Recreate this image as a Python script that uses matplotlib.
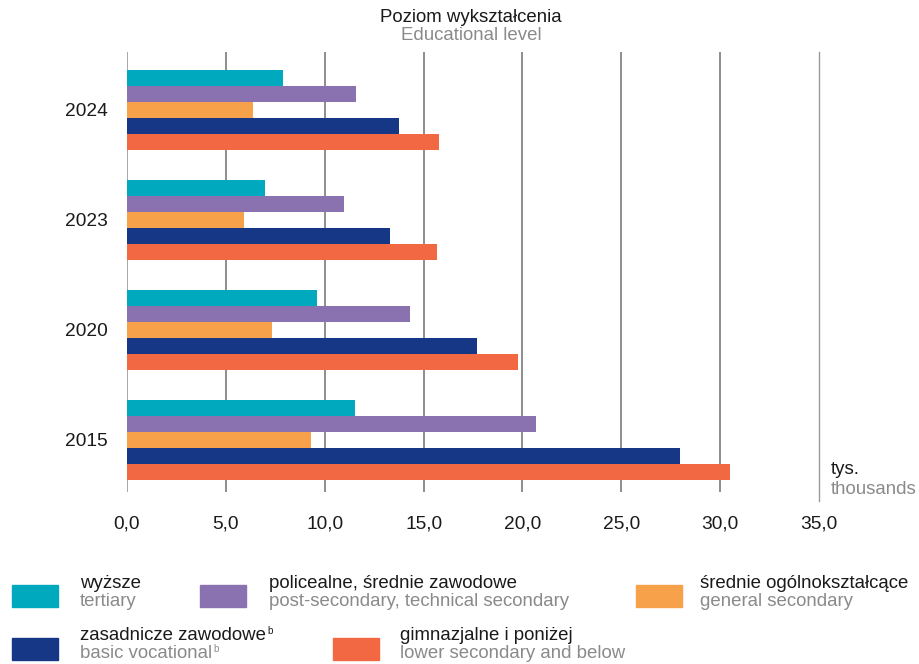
import numpy as np
import matplotlib
matplotlib.use("Agg")
import matplotlib.pyplot as plt
from matplotlib.patches import Rectangle

plt.rcParams['font.family'] = ['Liberation Sans', 'DejaVu Sans']

# --- data (thousands) ---
years = ['2015', '2020', '2023', '2024']
tertiary = [11.55, 9.6, 7.0, 7.9]
post_secondary = [20.7, 14.3, 11.0, 11.6]
general_secondary = [9.3, 7.35, 5.9, 6.35]
basic_vocational = [27.95, 17.7, 13.3, 13.75]
lower_secondary = [30.5, 19.8, 15.7, 15.8]

series = [tertiary, post_secondary, general_secondary, basic_vocational, lower_secondary]
colors = ['#00A9BD', '#8A72B0', '#F7A24B', '#163686', '#F26842']
labels_pl = ['wyższe', 'policealne, średnie zawodowe', 'średnie ogólnokształcące',
             'zasadnicze zawodowe', 'gimnazjalne i poniżej']
labels_en = ['tertiary', 'post-secondary, technical secondary', 'general secondary',
             'basic vocational', 'lower secondary and below']
footnote = ['', '', '', 'b', '']
x_ticks = [0, 5, 10, 15, 20, 25, 30, 35]

GRAY = '#8a8a8a'
DARK = '#1a1a1a'
FS = 13.4

fig = plt.figure(figsize=(9.19, 6.64), dpi=100)
ax = fig.add_axes([127 / 919, 1 - 492 / 664, (819 - 127) / 919, (492 - 52) / 664])

h = 0.145
y = np.arange(len(years))
for i, (vals, c) in enumerate(zip(series, colors)):
    offs = (2 - i) * h
    ax.barh(y + offs, vals, height=h, color=c, edgecolor='none', zorder=3)

ax.set_xlim(0, 35)
ax.set_ylim(-0.475, 3.527)
ax.set_xticks(x_ticks)
ax.set_xticklabels([f'{v:.1f}'.replace('.', ',') for v in x_ticks])
ax.set_yticks(y)
ax.set_yticklabels(years)
ax.tick_params(axis='both', length=0, labelsize=13.8, colors=DARK)
ax.tick_params(axis='x', pad=17)
ax.tick_params(axis='y', pad=14)
for s in ax.spines.values():
    s.set_visible(False)
ax.axvline(0, color='#9a9a9a', lw=1.2, zorder=1)
for xv in x_ticks[1:-1]:
    ax.axvline(xv, color='#7a7a7a', lw=1.2, zorder=1)
ax.plot([35, 35], [3.527, -0.56], color='#9a9a9a', lw=1.0, clip_on=False, zorder=1)

# title
fig.text(471 / 919, 1 - 17 / 664, 'Poziom wykształcenia', ha='center', va='center',
         fontsize=FS, color=DARK)
fig.text(471 / 919, 1 - 35 / 664, 'Educational level', ha='center', va='center',
         fontsize=FS, color=GRAY)

# unit
fig.text(831 / 919, 1 - 470 / 664, 'tys.', ha='left', va='center', fontsize=FS, color=DARK)
fig.text(831 / 919, 1 - 490 / 664, 'thousands', ha='left', va='center', fontsize=FS, color=GRAY)

# legend
renderer = fig.canvas.get_renderer()
legend_pos = [(12, 585, 80), (200, 585, 269), (636, 585, 700), (12, 638, 80), (333, 638, 400)]
for (px, py, tx), c, lp, le, fn in zip(legend_pos, colors, labels_pl, labels_en, footnote):
    fig.patches.append(Rectangle((px / 919, 1 - (py + 22) / 664), 46 / 919, 22 / 664,
                                 transform=fig.transFigure, color=c))
    t1 = fig.text(tx / 919, 1 - (py - 2) / 664, lp, ha='left', va='center', fontsize=FS, color=DARK)
    t2 = fig.text(tx / 919, 1 - (py + 16) / 664, le, ha='left', va='center', fontsize=FS, color=GRAY)
    if fn:
        for t, col in ((t1, DARK), (t2, GRAY)):
            bb = t.get_window_extent(renderer)
            fig.text((bb.x1 + 1) / 919, (bb.y1 + 2) / 664, fn, ha='left', va='top',
                     fontsize=7, color=col)

fig.savefig('out.png', dpi=100)
